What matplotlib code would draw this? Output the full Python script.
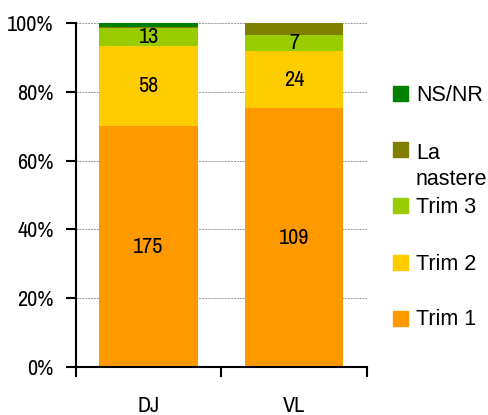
import numpy as np
import matplotlib.pyplot as plt
from matplotlib.patches import Rectangle

plt.rcParams['font.family'] = 'Archivo Narrow'

# counts per region, stacked bottom to top
regions = ["DJ", "VL"]
trim1 = [175, 109]
trim2 = [58, 24]
trim3 = [13, 7]
la_nastere = [1, 5]
ns_nr = [3, 0]
colors = ["#FF9900", "#FFCC00", "#99CC00", "#808000", "#008000"]
labelled = [True, True, True, False, False]

counts = np.array([trim1, trim2, trim3, la_nastere, ns_nr], dtype=float)
shares = counts / counts.sum(axis=0) * 100

fig = plt.figure(figsize=(4.89, 4.15), dpi=100)
ax = fig.add_axes([0.155, 0.1157, 0.595, 0.829])

x = np.arange(len(regions))
bottom = np.zeros(len(regions))
for vals, cnt, col, lab in zip(shares, counts, colors, labelled):
    ax.bar(x, vals, bottom=bottom, width=0.68, color=col, zorder=2)
    if lab:
        for xi, b, v, c in zip(x, bottom, vals, cnt):
            ax.text(xi, b + v / 2, f"{int(c)}", ha="center", va="center",
                    fontsize=16, zorder=3)
    bottom += vals

ax.set_xlim(-0.5, 1.5)
ax.set_ylim(0, 100)
ax.set_yticks(np.arange(0, 101, 20))
ax.set_yticklabels([f"{v}%" for v in range(0, 101, 20)], fontsize=16)
ax.yaxis.grid(True, linestyle=(0, (2, 1)), color="#999999", linewidth=0.7, zorder=0)
ax.set_axisbelow(True)

# boundary ticks between bars, names centred below
ax.set_xticks([-0.5, 0.5, 1.5])
ax.set_xticklabels(["", "", ""])
ax.set_xticks(x, minor=True)
ax.set_xticklabels(regions, minor=True, fontsize=16)
ax.tick_params(axis="x", which="minor", length=0, pad=21)
ax.tick_params(axis="x", which="major", length=7, width=1.5, direction="out")
ax.tick_params(axis="y", length=7, width=1.5, direction="out", pad=9)

for side in ["top", "right"]:
    ax.spines[side].set_visible(False)
for side in ["left", "bottom"]:
    ax.spines[side].set_linewidth(1.5)

# legend, top entry first: (label, colour, square centre, last baseline) in px
legend_rows = [("NS/NR", "#008000", 93, 101), ("La\nnastere", "#808000", 149, 185),
               ("Trim 3", "#99CC00", 205, 213), ("Trim 2", "#FFCC00", 262, 270),
               ("Trim 1", "#FF9900", 318, 325)]
W, H = 489, 415
for text, col, ypx, base in legend_rows:
    fig.add_artist(Rectangle((393 / W, 1 - (ypx + 8) / H), 15 / W, 15 / H,
                             transform=fig.transFigure, color=col))
    fig.text(416 / W, 1 - base / H, text, ha="left", va="baseline",
             fontsize=15.5, linespacing=1.3, family="Liberation Sans")

fig.savefig("out.png", dpi=100)
